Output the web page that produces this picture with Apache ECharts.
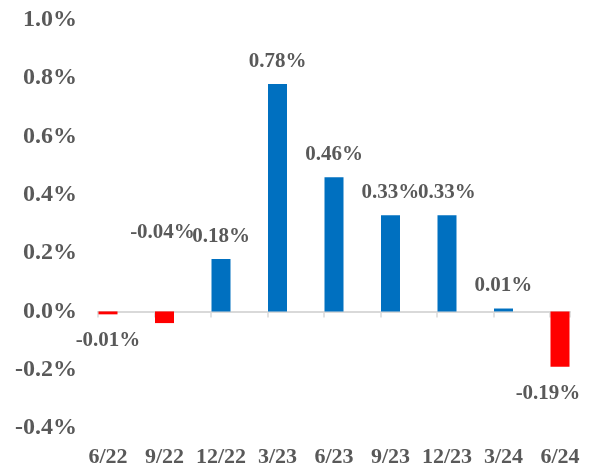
<!DOCTYPE html>
<html>
<head>
<meta charset="utf-8">
<script src="https://cdn.jsdelivr.net/npm/echarts@6/dist/echarts.min.js"></script>
<style>
html, body { margin: 0; padding: 0; background: #fff; }
#chart { width: 597px; height: 468px; }
</style>
</head>
<body>
<div id="chart"></div>
<script>
// quarter labels and change (%) per quarter
var quarters = ['6/22', '9/22', '12/22', '3/23', '6/23', '9/23', '12/23', '3/24', '6/24'];
var changes = [-0.01, -0.04, 0.18, 0.78, 0.46, 0.33, 0.33, 0.01, -0.19];
var yTicks = { min: -0.4, max: 1.0, step: 0.2 };

var FONT = '"Liberation Serif", "Times New Roman", serif';
var GREY = '#595959';

var barData = changes.map(function (v, i) {
	var item = {
		value: [i, v],
		itemStyle: { color: v < 0 ? '#FF0000' : '#0070C0' },
		label: { position: v < 0 ? 'bottom' : 'top', distance: v < 0 ? 16 : 12 }
	};
	// the 9/22 label sits up beside the 12/22 one
	if (i === 1) {
		item.label = { position: 'top', distance: 12, offset: [-2, -56] };
	}
	// last label is pulled in from the edge
	if (i === changes.length - 1) {
		item.label.offset = [-12, 0];
	}
	return item;
});

// x range: a little room either side of the first and last bar
var xMin = -0.177, xMax = 8.177;

var chart = echarts.init(document.getElementById('chart'));
chart.setOption({
	animation: false,
	grid: { left: 98, right: 27, top: 20, bottom: 40 },
	xAxis: [{
		// quarter names along the bottom
		type: 'value',
		min: xMin,
		max: xMax,
		position: 'bottom',
		axisLine: { show: false, onZero: false },
		axisTick: { show: false },
		splitLine: { show: false },
		axisLabel: {
			customValues: quarters.map(function (q, i) { return i; }),
			margin: 18,
			color: GREY,
			fontFamily: FONT,
			fontWeight: 'bold',
			fontSize: 22,
			formatter: function (v) { return quarters[Math.round(v)] || ''; }
		}
	}, {
		// zero line, ticks counted from min land on each bar's left edge
		type: 'value',
		min: xMin,
		max: xMax,
		interval: 1,
		position: 'bottom',
		axisLine: { show: true, onZero: true, lineStyle: { color: '#d9d9d9', width: 2 } },
		axisTick: { show: true, length: 6, lineStyle: { color: '#d9d9d9', width: 1.5 } },
		axisLabel: { show: false },
		splitLine: { show: false }
	}],
	yAxis: {
		type: 'value',
		min: yTicks.min,
		max: yTicks.max,
		interval: yTicks.step,
		axisLine: { show: false },
		axisTick: { show: false },
		splitLine: { show: false },
		axisLabel: {
			margin: 21,
			color: GREY,
			fontFamily: FONT,
			fontWeight: 'bold',
			fontSize: 24,
			formatter: function (v) { return v.toFixed(1) + '%'; }
		}
	},
	series: [{
		type: 'bar',
		xAxisIndex: 0,
		barWidth: 19,
		data: barData,
		label: {
			show: true,
			color: GREY,
			fontFamily: FONT,
			fontWeight: 'bold',
			fontSize: 21,
			formatter: function (p) { return p.value[1].toFixed(2) + '%'; }
		}
	}]
});
</script>
</body>
</html>
